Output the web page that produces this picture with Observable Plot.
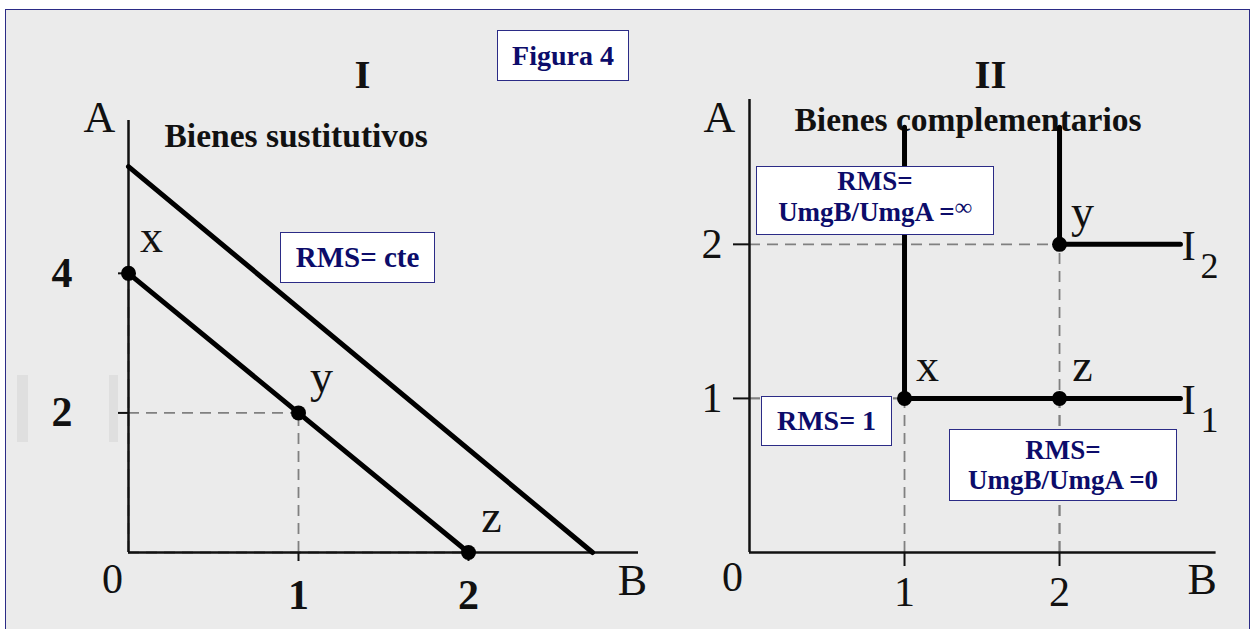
<!DOCTYPE html>
<html><head><meta charset="utf-8">
<script src="https://cdn.jsdelivr.net/npm/d3@7"></script>
<script src="https://cdn.jsdelivr.net/npm/@observablehq/plot@0.6"></script>
<style>
html,body{margin:0;padding:0;background:#fff;}
#wrap{position:relative;width:1255px;height:629px;overflow:hidden;background:#fff;}
#frame{position:absolute;left:5px;top:9px;width:1245px;height:640px;border:1.5px solid #2b2b86;background:#ebebeb;box-sizing:border-box;}
.panel{position:absolute;top:0;}
.panel svg{display:block;}
.box{position:absolute;background:#fff;border:1.5px solid #2b2b86;box-sizing:border-box;color:#0c0c6a;font-family:"Liberation Serif","Times New Roman",serif;font-weight:bold;text-align:center;display:flex;flex-direction:column;justify-content:center;align-items:center;white-space:nowrap;}
.artifact{position:absolute;background:#dfdfdf;}
</style></head>
<body><div id="wrap"><div id="frame"></div></div>
<script>
// ---------- Panel I: bienes sustitutivos ----------
const subLabels = ["x", "y", "z"];
const subB = [0, 1, 2];
const subA = [4, 2, 0];
const subLowB = [0, 2];
const subLowA = [4, 0];
const subHighB = [0, 2.73];
const subHighA = [5.53, 0];
const subTicksA = [2, 4];
const subTicksB = [1, 2];

// ---------- Panel II: bienes complementarios ----------
const compLabels = ["x", "z", "y"];
const compB = [1, 2, 2];
const compA = [1, 1, 2];
const compI1B = [1, 1, 2.78];
const compI1A = [2.76, 1, 1];
const compI2B = [2, 2, 2.78];
const compI2A = [2.76, 2, 2];
const compCurveName = ["I", "I"];
const compCurveIdx = ["1", "2"];
const compTicks = [1, 2];

// ---------- Annotations ----------
const figureTitle = "Figura 4";
const panelTitles = ["I", "II"];
const panelSubtitles = ["Bienes sustitutivos", "Bienes complementarios"];
const axisNames = ["A", "B"];
const boxSub = "RMS= cte";
const boxInf = ["RMS=", "UmgB/UmgA =", "∞"];
const boxOne = "RMS= 1";
const boxZero = ["RMS=", "UmgB/UmgA =0"];

const serif = "'Liberation Serif', 'Times New Roman', serif";
const ink = "#111";
const dashStyle = {stroke: "#808080", strokeWidth: 1.8, strokeDasharray: "11,7"};
const fmt = d => String(d);

const subPts = subLabels.map((label, i) => ({label, B: subB[i], A: subA[i]}));
const subLines = [
  ...subLowB.map((b, i) => ({curve: "low", B: b, A: subLowA[i]})),
  ...subHighB.map((b, i) => ({curve: "high", B: b, A: subHighA[i]}))
];
const compPts = compLabels.map((label, i) => ({label, B: compB[i], A: compA[i]}));
const compLines = [
  ...compI1B.map((b, i) => ({curve: "I1", B: b, A: compI1A[i]})),
  ...compI2B.map((b, i) => ({curve: "I2", B: b, A: compI2A[i]}))
];
const compEnds = [
  {name: compCurveName[0], idx: compCurveIdx[0], B: compI1B[2], A: compI1A[2]},
  {name: compCurveName[1], idx: compCurveIdx[1], B: compI2B[2], A: compI2A[2]}
];

const txt = {fontFamily: serif, fill: ink, lineAnchor: "bottom"};

const left = Plot.plot({
  width: 640, height: 629,
  marginLeft: 128, marginRight: 2, marginTop: 120, marginBottom: 77,
  x: {domain: [0, 3]},
  y: {domain: [0, 6.19]},
  style: {background: "transparent", overflow: "visible"},
  marks: [
    Plot.ruleY(subPts, {y: "A", x1: 0, x2: "B", ...dashStyle}),
    Plot.ruleX(subPts, {x: "B", y1: 0, y2: "A", ...dashStyle}),
    Plot.ruleX([0], {stroke: ink, strokeWidth: 2.5}),
    Plot.ruleY([0], {stroke: ink, strokeWidth: 2.5}),
    Plot.axisY({ticks: subTicksA, tickFormat: fmt, tickSize: 10, tickPadding: 46, fontSize: 42, fontWeight: "bold", fontFamily: serif, color: ink, strokeWidth: 2, label: null}),
    Plot.axisX({ticks: subTicksB, tickFormat: fmt, tickSize: 9, tickPadding: 18, fontSize: 42, fontWeight: "bold", fontFamily: serif, color: ink, strokeWidth: 2, label: null}),
    Plot.text([0], {x: d => d, y: d => d, text: d => String(d), dx: -16, dy: 40, textAnchor: "middle", fontSize: 42, ...txt}),
    Plot.text([axisNames[0]], {frameAnchor: "top-left", dx: -29, dy: 11, textAnchor: "middle", fontSize: 44, ...txt}),
    Plot.text([axisNames[1]], {frameAnchor: "bottom-right", dx: -6, dy: 42, textAnchor: "middle", fontSize: 44, ...txt}),
    Plot.text([panelTitles[0]], {frameAnchor: "top-left", dx: 234, dy: -33, textAnchor: "middle", fontSize: 41, fontWeight: "bold", ...txt}),
    Plot.text([panelSubtitles[0]], {frameAnchor: "top-left", dx: 36, dy: 26, textAnchor: "start", fontSize: 33.5, fontWeight: "bold", ...txt}),
    Plot.line(subLines, {x: "B", y: "A", z: "curve", stroke: "#000", strokeWidth: 5}),
    Plot.dot(subPts, {x: "B", y: "A", r: 7.5, fill: "#000"}),
    Plot.text(subPts, {x: "B", y: "A", text: "label", dx: 23, dy: -21, textAnchor: "middle", fontSize: 46, ...txt})
  ]
});

const right = Plot.plot({
  width: 635, height: 629,
  marginLeft: 129, marginRight: 39.4, marginTop: 99, marginBottom: 77,
  x: {domain: [0, 3.01]},
  y: {domain: [0, 2.94]},
  style: {background: "transparent", overflow: "visible"},
  marks: [
    Plot.ruleY(compPts, {y: "A", x1: 0, x2: "B", ...dashStyle}),
    Plot.ruleX(compPts, {x: "B", y1: 0, y2: "A", ...dashStyle}),
    Plot.ruleX([0], {stroke: ink, strokeWidth: 2.5}),
    Plot.ruleY([0], {stroke: ink, strokeWidth: 2.5}),
    Plot.axisY({ticks: compTicks, tickFormat: fmt, tickSize: 16, tickPadding: 11, fontSize: 42, fontFamily: serif, color: ink, strokeWidth: 2, label: null}),
    Plot.axisX({ticks: compTicks, tickFormat: fmt, tickSize: 14, tickPadding: 10, fontSize: 42, fontFamily: serif, color: ink, strokeWidth: 2, label: null}),
    Plot.text([0], {x: d => d, y: d => d, text: d => String(d), dx: -17, dy: 38, textAnchor: "middle", fontSize: 42, ...txt}),
    Plot.text([axisNames[0]], {frameAnchor: "top-left", dx: -30, dy: 32, textAnchor: "middle", fontSize: 44, ...txt}),
    Plot.text([axisNames[1]], {frameAnchor: "bottom-right", dx: -14, dy: 41, textAnchor: "middle", fontSize: 44, ...txt}),
    Plot.text([panelTitles[1]], {frameAnchor: "top-left", dx: 241, dy: -12, textAnchor: "middle", fontSize: 41, fontWeight: "bold", ...txt}),
    Plot.text([panelSubtitles[1]], {frameAnchor: "top-left", dx: 45, dy: 31, textAnchor: "start", fontSize: 33.5, fontWeight: "bold", ...txt}),
    Plot.line(compLines, {x: "B", y: "A", z: "curve", stroke: "#000", strokeWidth: 5, strokeLinejoin: "miter"}),
    Plot.dot(compPts, {x: "B", y: "A", r: 7.5, fill: "#000"}),
    Plot.text(compPts, {x: "B", y: "A", text: "label", dx: 23, dy: -17, textAnchor: "middle", fontSize: 46, ...txt}),
    Plot.text(compEnds, {x: "B", y: "A", text: "name", dx: 1, dy: 16, textAnchor: "start", fontSize: 43, ...txt}),
    Plot.text(compEnds, {x: "B", y: "A", text: "idx", dx: 20, dy: 34, textAnchor: "start", fontSize: 36, ...txt})
  ]
});

const wrap = document.getElementById("wrap");
function addDiv(cls, css, html) {
  const d = document.createElement("div");
  d.className = cls;
  Object.assign(d.style, css);
  if (html != null) d.innerHTML = html;
  wrap.appendChild(d);
  return d;
}
addDiv("artifact", {left: "17px", top: "375px", width: "11px", height: "67px"});
addDiv("artifact", {left: "109px", top: "375px", width: "9px", height: "67px"});

const pl = addDiv("panel", {left: "0px"});
pl.appendChild(left);
const pr = addDiv("panel", {left: "620px"});
pr.appendChild(right);

addDiv("box", {left: "497px", top: "30px", width: "132px", height: "51px", fontSize: "28px"}, figureTitle);
addDiv("box", {left: "280px", top: "232px", width: "155px", height: "51px", fontSize: "29px"}, boxSub);
addDiv("box", {left: "756px", top: "166px", width: "238px", height: "69px", fontSize: "27px", lineHeight: "31px", paddingBottom: "6px"},
  `<div>${boxInf[0]}</div><div>${boxInf[1]}<span style="position:relative;top:-6px;font-size:24px">${boxInf[2]}</span></div>`);
addDiv("box", {left: "761px", top: "396px", width: "131px", height: "50px", fontSize: "28px"}, boxOne);
addDiv("box", {left: "949px", top: "429px", width: "228px", height: "72px", fontSize: "27px", lineHeight: "30px"},
  `<div>${boxZero[0]}</div><div>${boxZero[1]}</div>`);
</script></body></html>
